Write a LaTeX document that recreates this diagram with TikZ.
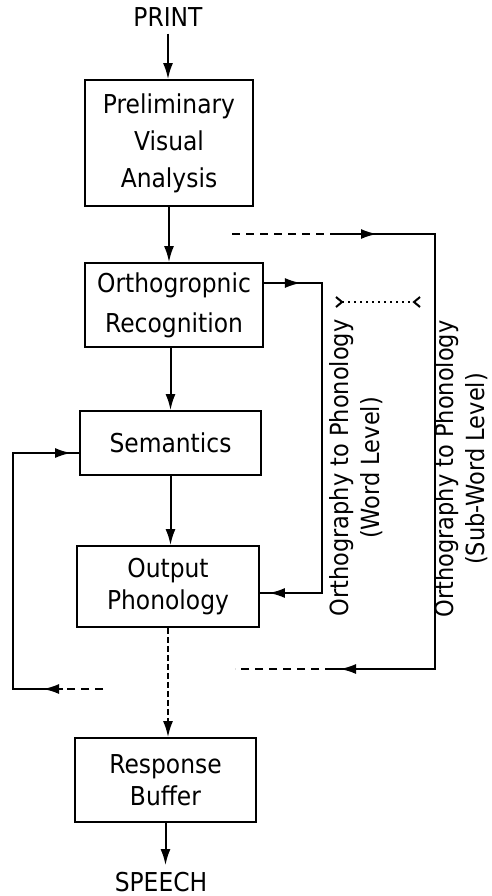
\documentclass[tikz,border=0pt]{standalone}
\usepackage{fontspec}
\setmainfont{DejaVu Sans}[FakeStretch=0.9]
\usepackage{tikz}
\usetikzlibrary{arrows.meta,decorations.markings}
\tikzset{
  ar/.style={-{Latex[length=8pt,width=5pt]},line width=1pt},
  ln/.style={line width=1pt},
  dsh/.style={line width=1pt,dash pattern=on 4pt off 3pt},
  box/.style={draw,line width=0.9pt,align=center,inner sep=0pt,font=\fontsize{13}{16}\selectfont},
  lbl/.style={align=center,font=\fontsize{13}{16}\selectfont},
  vlbl/.style={rotate=90,align=center,font=\fontsize{12.5}{15.5}\selectfont},
  tipat/.style={postaction={decorate,decoration={markings,mark=at position #1 with {\arrow{Latex[length=8pt,width=5pt]}}}}}
}
\begin{document}
\begin{tikzpicture}[x=0.5pt,y=-0.5pt]
\useasboundingbox (0,0) rectangle (492,896);
\node[lbl] (print) at (168,17) {PRINT};
\node[box,minimum width=84pt,minimum height=63pt] (pva) at (169,143) {Preliminary\\[2.5pt]Visual\\[2.5pt]Analysis};
\node[box,minimum width=89pt,minimum height=42pt] (orth) at (174,305) {Orthogropnic\\[4pt]Recognition};
\node[box,minimum width=90.5pt,minimum height=32pt] (sem) at (170.5,443) {Semantics};
\node[box,minimum width=91pt,minimum height=40.5pt] (outp) at (168,586.5) {Output\\Phonology};
\node[box,minimum width=90.5pt,minimum height=42pt] (buf) at (165.5,780) {Response\\Buffer};
\node[lbl] (speech) at (161,882) {SPEECH};
\node[vlbl] (wlbl) at (356,468) {Orthography to Phonology\\(Word Level)};
\node[vlbl] (slbl) at (461,469) {Orthography to Phonology\\(Sub-Word Level)};
\draw[ar] (print.south) -- (print.south |- pva.north);
\draw[ar] (pva.south) -- (pva.south |- orth.north);
\draw[ar] (sem.north |- orth.south) -- (sem.north);
\draw[ar] (sem.south) -- (sem.south |- outp.north);
\draw[ar,dash pattern=on 3pt off 1.5pt] (outp.south) -- (outp.south |- buf.north);
\draw[ar] (buf.south) -- (buf.south |- speech.north);
\coordinate (wtop) at (322,283);
\coordinate (wbot) at (322,593);
\draw[ln,tipat=18.5pt,tipat=-4.5pt] (orth.east |- wtop) -- (wtop) -- (wbot) -- (outp.east |- wbot);
\coordinate (sin) at (232,234); \coordinate (sa) at (330,234);
\coordinate (stop) at (435,234); \coordinate (sbot) at (435,669);
\coordinate (sb) at (333,669); \coordinate (sout) at (235,669);
\draw[dsh] (sin) -- (sa);
\draw[ln,tipat=23.5pt,tipat=-3.5pt] (sa) -- (stop) -- (sbot) -- (sb);
\draw[dsh] (sb) -- (sout);
\coordinate (lin) at (103,689); \coordinate (la) at (63,689);
\coordinate (lbot) at (13,689); \coordinate (ltop) at (13,453);
\draw[dsh] (lin) -- (la);
\draw[ln,tipat=10pt,tipat=-4pt] (la) -- (lbot) -- (ltop) -- (sem.west |- ltop);
\coordinate (dl) at (335,302); \coordinate (dr) at (421,302);
\draw[line width=1pt,dotted,{Straight Barb[reversed,length=3pt,width=5pt]}-{Straight Barb[reversed,length=3pt,width=5pt]}] (dl) -- (dr);
\end{tikzpicture}
\end{document}
